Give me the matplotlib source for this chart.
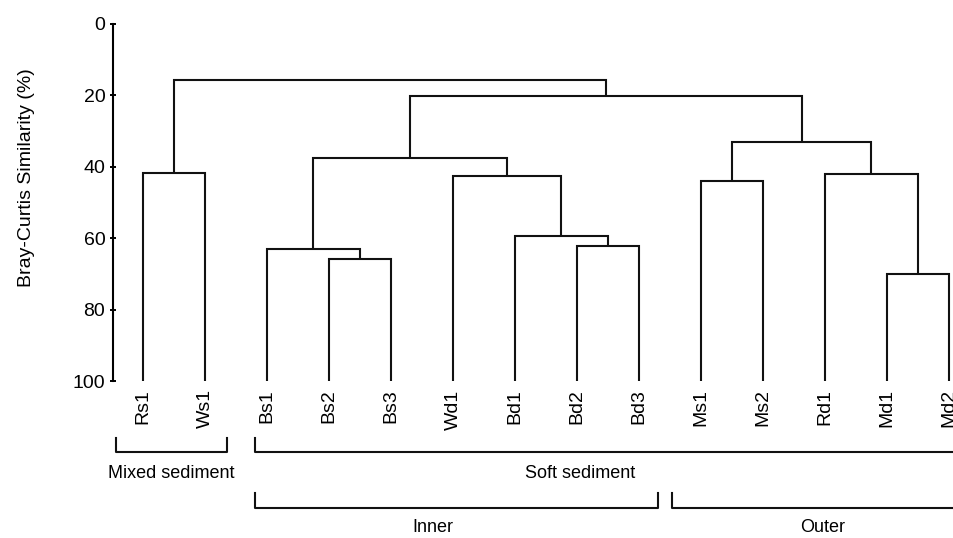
import matplotlib
matplotlib.use("Agg")
import matplotlib.pyplot as plt
from matplotlib.transforms import blended_transform_factory

# ---- data ----
leaves = ["Rs1", "Ws1", "Bs1", "Bs2", "Bs3", "Wd1", "Bd1", "Bd2", "Bd3",
          "Ms1", "Ms2", "Rd1", "Md1", "Md2"]
# merges: (left, right, similarity %) ; ints refer to earlier merges
merges = [
    ("Rs1", "Ws1", 41.6),   # 0
    ("Bs2", "Bs3", 65.9),   # 1
    ("Bs1", 1, 62.9),       # 2
    ("Bd2", "Bd3", 62.1),   # 3
    ("Bd1", 3, 59.5),       # 4
    ("Wd1", 4, 42.6),       # 5
    (2, 5, 37.6),           # 6
    ("Ms1", "Ms2", 44.1),   # 7
    ("Md1", "Md2", 70.1),   # 8
    ("Rd1", 8, 42.0),       # 9
    (7, 9, 33.0),           # 10
    (6, 10, 20.3),          # 11
    (0, 11, 15.7),          # 12
]
yticks = [0, 20, 40, 60, 80, 100]
ylabel = "Bray-Curtis Similarity (%)"

plt.rcParams['font.family'] = ['Liberation Sans', 'DejaVu Sans']

W, H = 954, 538
fig = plt.figure(figsize=(W / 100, H / 100), dpi=100)
ax = fig.add_axes([113 / W, 1 - 381 / H, 1 - 113 / W, (381 - 24) / H])

pos = {name: i for i, name in enumerate(leaves)}
node_x, node_y = {}, {}
for name in leaves:
    node_x[name] = pos[name]
    node_y[name] = 100.0

lw = 1.5
for k, (a, b, h) in enumerate(merges):
    xa, ya = node_x[a], node_y[a]
    xb, yb = node_x[b], node_y[b]
    ax.plot([xa, xa, xb, xb], [ya, h, h, yb], color='#111111', lw=lw,
            solid_joinstyle='miter', solid_capstyle='butt', clip_on=False)
    node_x[k] = (xa + xb) / 2
    node_y[k] = h

ax.set_ylim(100, 0)
ax.set_xlim(-30 / 62, (954 - 143) / 62)
ax.set_yticks(yticks)
ax.set_yticklabels([str(t) for t in yticks], fontsize=14)
ax.tick_params(axis='y', direction='inout', length=5, width=1.4, pad=3)
ax.set_xticks(range(len(leaves)))
ax.set_xticklabels(leaves, rotation=90, fontsize=14, va='top')
ax.tick_params(axis='x', length=0, pad=6)
for s in ['top', 'right', 'bottom']:
    ax.spines[s].set_visible(False)
ax.spines['left'].set_linewidth(1.5)

fig.text(27 / W, 1 - 178 / H, ylabel, rotation=90, fontsize=14,
         ha='center', va='center')

tr = blended_transform_factory(ax.transData, fig.transFigure)

def bracket(x0, x1, ytop, ybot, right_tick=True):
    yt, yb = 1 - ytop / H, 1 - ybot / H
    xs = [x0, x0, x1]
    ys = [yt, yb, yb]
    if right_tick:
        xs.append(x1)
        ys.append(yt)
    ax.plot(xs, ys, color='#111111', lw=1.5, transform=tr, clip_on=False)

# row 1
x0 = pos["Rs1"] - 0.435
x1 = pos["Ws1"] + 0.355
bracket(x0, x1, 438, 452)
ax.text((x0 + x1) / 2, 1 - 473 / H, "Mixed sediment", transform=tr,
        ha='center', va='center', fontsize=13)
x0 = pos["Bs1"] - 0.194
bracket(x0, pos["Md2"] + 1.0, 438, 452, right_tick=False)
ax.text((580 - 143) / 62, 1 - 473 / H, "Soft sediment", transform=tr,
        ha='center', va='center', fontsize=13)
# row 2
x0 = pos["Bs1"] - 0.194
x1 = pos["Bd3"] + 0.306
bracket(x0, x1, 493, 508)
ax.text((433 - 143) / 62, 1 - 528 / H, "Inner", transform=tr,
        ha='center', va='center', fontsize=13)
x0 = pos["Ms1"] - 0.468
bracket(x0, pos["Md2"] + 1.0, 493, 508, right_tick=False)
ax.text((823 - 143) / 62, 1 - 528 / H, "Outer", transform=tr,
        ha='center', va='center', fontsize=13)

fig.savefig("out.png", dpi=100)
